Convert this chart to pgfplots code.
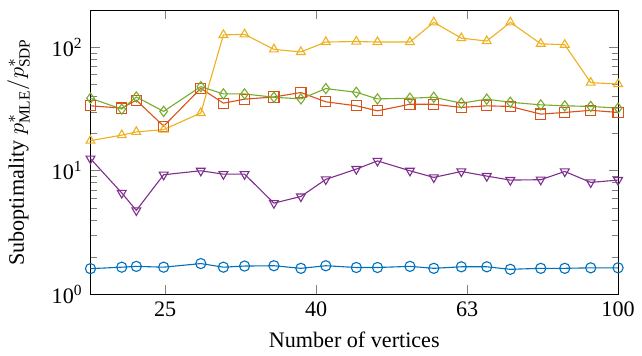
\documentclass[border=0pt]{standalone}
\usepackage{fontspec}
\setmainfont{Liberation Serif}
\usepackage{pgfplots}
\pgfplotsset{compat=1.18}
\definecolor{mblue}{HTML}{0072BD}
\definecolor{mred}{HTML}{D95319}
\definecolor{myellow}{HTML}{EDB120}
\definecolor{mpurple}{HTML}{7E2F8E}
\definecolor{mgreen}{HTML}{77AC30}
\begin{document}
\begin{tikzpicture}
\begin{axis}[
  scale only axis,
  width=238.5pt, height=128.5pt,
  xmode=log, ymode=log,
  xmin=20, xmax=100, ymin=1, ymax=200,
  xtick={25.1189,39.8107,63.0957,100},
  xticklabels={25,40,63,100},
  minor xtick={},
  ytick={1,10,100},
  yticklabels={10\textsuperscript{0},10\textsuperscript{1},10\textsuperscript{2}},
  xlabel={Number of vertices},
  ylabel={Suboptimality $p^*_{\mathrm{MLE}}/p^*_{\mathrm{SDP}}$},
  ylabel shift=3pt,
  tick label style={font=\normalsize},
  every axis plot/.append style={line width=0.5pt, mark size=2.3pt, mark options={solid, fill=none}},
]
\addplot[mblue, mark=o] coordinates {
(20,1.61)(22,1.655)(23,1.68)(25,1.655)(28,1.77)(30,1.655)(32,1.69)(35,1.70)(38,1.62)(41,1.70)
(45,1.645)(48,1.645)(53,1.68)(57,1.62)(62,1.667)(67,1.667)(72,1.59)(79,1.62)(85,1.62)(92,1.635)(100,1.635)};
\addplot[mred, mark=square] coordinates {
(20,33.5)(22,32.1)(23,37.2)(25,22.9)(28,46.4)(30,35.2)(32,37.9)(35,39.5)(38,42.9)(41,36.1)
(45,33.5)(48,30.5)(53,34.5)(57,34.5)(62,32.5)(67,33.5)(72,33.1)(79,28.7)(85,29.6)(92,30.8)(100,29.6)};
\addplot[myellow, mark=triangle] coordinates {
(20,17.5)(22,19.4)(23,20.6)(25,21.5)(28,29.3)(30,125.6)(32,127)(35,95.9)(38,91.4)(41,110)
(45,111)(48,110)(53,110)(57,158.8)(62,118.3)(67,111.9)(72,158.8)(79,106.5)(85,104.5)(92,51.6)(100,50.3)};
\addplot[mpurple, mark=triangle, mark options={rotate=180}] coordinates {
(20,12.5)(22,6.6)(23,4.77)(25,9.27)(28,9.98)(30,9.37)(32,9.37)(35,5.46)(38,6.18)(41,8.5)
(45,10.3)(48,12.0)(53,9.98)(57,8.82)(62,9.85)(67,9.04)(72,8.39)(79,8.45)(85,9.85)(92,8.04)(100,8.39)};
\addplot[mgreen, mark=diamond] coordinates {
(20,38.6)(22,31.5)(23,39.5)(25,30.2)(28,47.9)(30,41.8)(32,41.8)(35,39.3)(38,38.1)(41,46.2)
(45,43.1)(48,38.1)(53,38.6)(57,39.3)(62,35.2)(67,37.9)(72,35.8)(79,34.1)(85,33.5)(92,33.1)(100,32.1)};
\end{axis}
\path (current axis.north) ++(0,4.5pt);
\end{tikzpicture}
\end{document}
